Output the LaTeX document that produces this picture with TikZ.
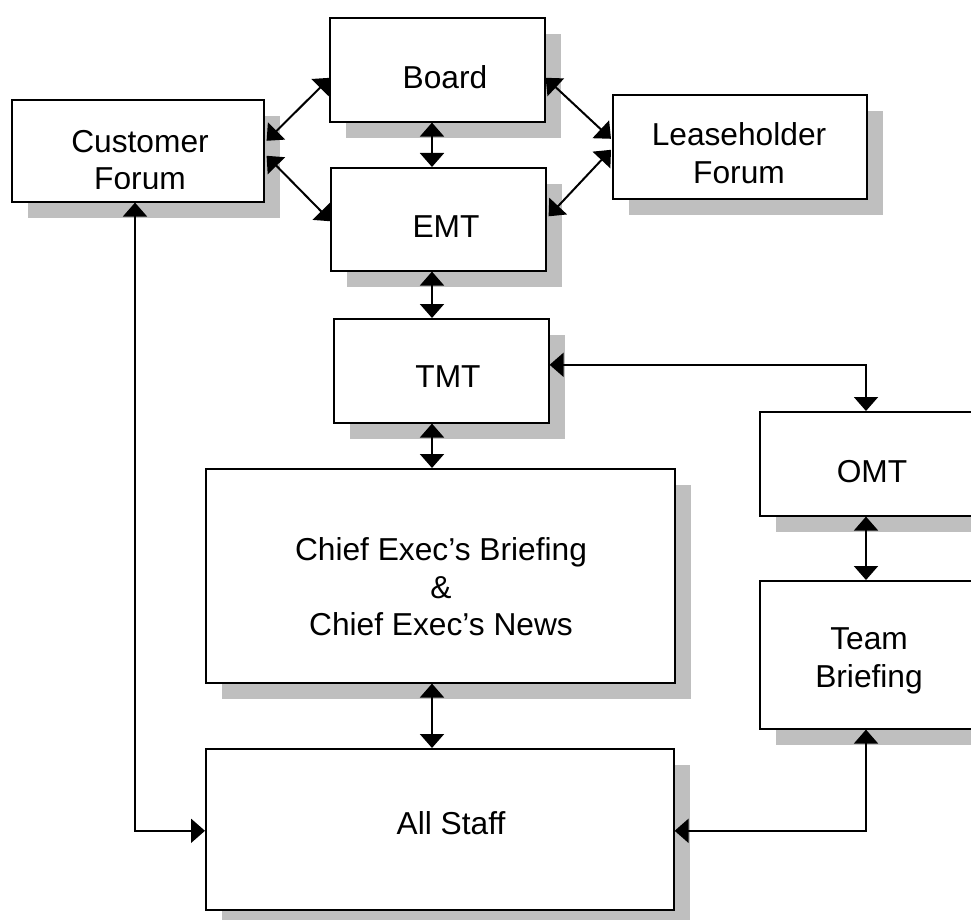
\documentclass[tikz,border=0pt]{standalone}
\usepackage{fontspec}
\setmainfont{Liberation Sans}
\usetikzlibrary{arrows.meta,shadows,calc}
\definecolor{shadowgray}{HTML}{BFBFBF}
\tikzset{
  box/.style={draw=black, line width=1.6pt, fill=white, rectangle, inner sep=0pt, anchor=north west,
    general shadow={fill=shadowgray, shadow xshift=16pt, shadow yshift=-16pt}},
  lbl/.style={font=\fontsize{31.7}{37.5}\selectfont, align=center, inner sep=0pt},
  dbl/.style={line width=2pt, {Triangle[length=14pt,width=24pt]}-{Triangle[length=14pt,width=24pt]}},
}
\begin{document}
\begin{tikzpicture}[x=1pt,y=-1pt]
\useasboundingbox (0,0) rectangle (971,920);
% boxes
\node[box, minimum width=252pt, minimum height=102pt] (cust) at (11,99) {};
\node[box, minimum width=215pt, minimum height=104pt] (board) at (329,17) {};
\node[box, minimum width=215pt, minimum height=103pt] (emt) at (330,167) {};
\node[box, minimum width=254pt, minimum height=104pt] (lease) at (612,94) {};
\node[box, minimum width=215pt, minimum height=104pt] (tmt) at (333,318) {};
\node[box, minimum width=469pt, minimum height=214pt] (chief) at (205,468) {};
\node[box, minimum width=226pt, minimum height=104pt] (omt) at (759,411) {};
\node[box, minimum width=226pt, minimum height=148pt] (team) at (759,580) {};
\node[box, minimum width=468pt, minimum height=161pt] (all) at (205,748) {};
% texts
\begin{scope}
  \clip (cust.north west) rectangle ([yshift=14pt]cust.south east);
  \node[lbl] (custtext) at (140,160) {Customer\\Forum};
\end{scope}
\node[lbl] (boardtext) at (445,77) {Board};
\node[lbl] (emttext) at (446,227) {EMT};
\node[lbl] (leasetext) at (739,153) {Leaseholder\\Forum};
\node[lbl] (tmttext) at (448,377) {TMT};
\node[lbl] (omttext) at (872,472) {OMT};
\node[lbl] (teamtext) at (869,661) {Team\\Briefing};
\node[lbl] (chieftext) at (441,587) {Chief Exec’s Briefing\\\&\\Chief Exec’s News};
\node[lbl] (alltext) at (451,823) {All Staff};
% guide coordinates
\coordinate (vx) at (432,0);
\coordinate (vx2) at (866,0);
\coordinate (vx3) at (135,0);
% connectors
\draw[dbl] ($(cust.east)+(2,-10)$) -- ($(board.west)+(1,8)$);
\draw[dbl] ($(cust.east)+(2,5)$) -- ($(emt.west)+(1,2)$);
\draw[dbl] ($(board.east)+(0,8)$) -- ($(lease.west)+(-1,-8)$);
\draw[dbl] ($(emt.east)+(2,-3)$) -- ($(lease.west)+(-1,3)$);
\draw[dbl] (board.south -| vx) -- (emt.north -| vx);
\draw[dbl] (emt.south -| vx) -- (tmt.north -| vx);
\draw[dbl] (tmt.south -| vx) -- (chief.north -| vx);
\draw[dbl] (chief.south -| vx) -- (all.north -| vx);
\draw[dbl] ([yshift=6pt]tmt.east) -| (omt.north -| vx2);
\draw[dbl] (omt.south -| vx2) -- (team.north -| vx2);
\draw[dbl] (cust.south -| vx3) |- ([yshift=-1.5pt]all.west);
\draw[dbl] ([yshift=-1.5pt]all.east) -| (team.south -| vx2);
\end{tikzpicture}
\end{document}
